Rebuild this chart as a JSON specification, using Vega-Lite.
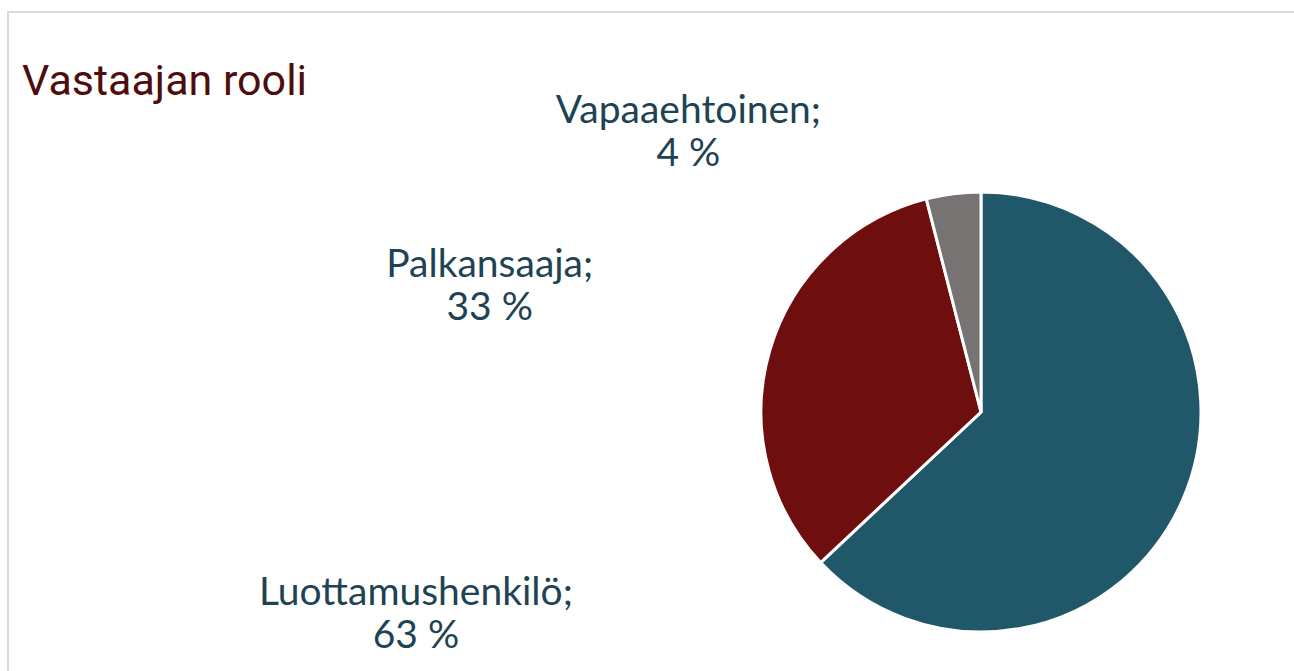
{
  "$schema": "https://vega.github.io/schema/vega-lite/v6.json",
  "autosize": {"type": "none"},
  "padding": {"left": 8, "top": 12, "right": 0, "bottom": 0},
  "width": 1946,
  "height": 800,
  "background": "white",
  "view": {"stroke": "#d9d9d9", "strokeWidth": 2, "fill": "white"},
  "config": {"view": {"stroke": "#d9d9d9", "strokeWidth": 2}},
  "title": {
    "text": "Vastaajan rooli",
    "anchor": "start",
    "frame": "group",
    "orient": "top",
    "offset": 0,
    "dx": 14,
    "dy": 126,
    "baseline": "alphabetic",
    "font": "Roboto",
    "fontSize": 43,
    "fontWeight": "normal",
    "color": "#4f0c0c"
  },
  "data": {
    "values": [
      {"role": "Luottamushenkilö", "pct": 63},
      {"role": "Palkansaaja", "pct": 33},
      {"role": "Vapaaehtoinen", "pct": 4}
    ]
  },
  "encoding": {
    "theta": {"field": "pct", "type": "quantitative", "stack": true},
    "order": {"field": "role", "type": "ordinal", "sort": "ascending"}
  },
  "layer": [
    {
      "mark": {"type": "arc", "outerRadius": 220, "stroke": "white", "strokeWidth": 3},
      "encoding": {
        "color": {
          "field": "role",
          "type": "nominal",
          "scale": {
            "domain": ["Luottamushenkilö", "Palkansaaja", "Vapaaehtoinen"],
            "range": ["#215869", "#6e0e0e", "#777372"]
          },
          "legend": null
        }
      }
    },
    {
      "mark": {
        "type": "text", "radius": 220, "dx": -265, "dy": -71,
        "align": "center", "baseline": "alphabetic",
        "font": "Lato", "fontSize": 39, "lineHeight": 43, "color": "#1e4352",
        "text": {"expr": "datum.role === 'Vapaaehtoinen' ? [datum.role + ';', datum.pct + ' %'] : ''"}
      },
      "encoding": {"detail": {"field": "role", "type": "nominal"}}
    },
    {
      "mark": {
        "type": "text", "radius": 220, "dx": -280, "dy": -74,
        "align": "center", "baseline": "alphabetic",
        "font": "Lato", "fontSize": 39, "lineHeight": 43, "color": "#1e4352",
        "text": {"expr": "datum.role === 'Palkansaaja' ? [datum.role + ';', datum.pct + ' %'] : ''"}
      },
      "encoding": {"detail": {"field": "role", "type": "nominal"}}
    },
    {
      "mark": {
        "type": "text", "radius": 220, "dx": -767, "dy": 106,
        "align": "center", "baseline": "alphabetic",
        "font": "Lato", "fontSize": 39, "lineHeight": 43, "color": "#1e4352",
        "text": {"expr": "datum.role === 'Luottamushenkilö' ? [datum.role + ';', datum.pct + ' %'] : ''"}
      },
      "encoding": {"detail": {"field": "role", "type": "nominal"}}
    }
  ]
}
